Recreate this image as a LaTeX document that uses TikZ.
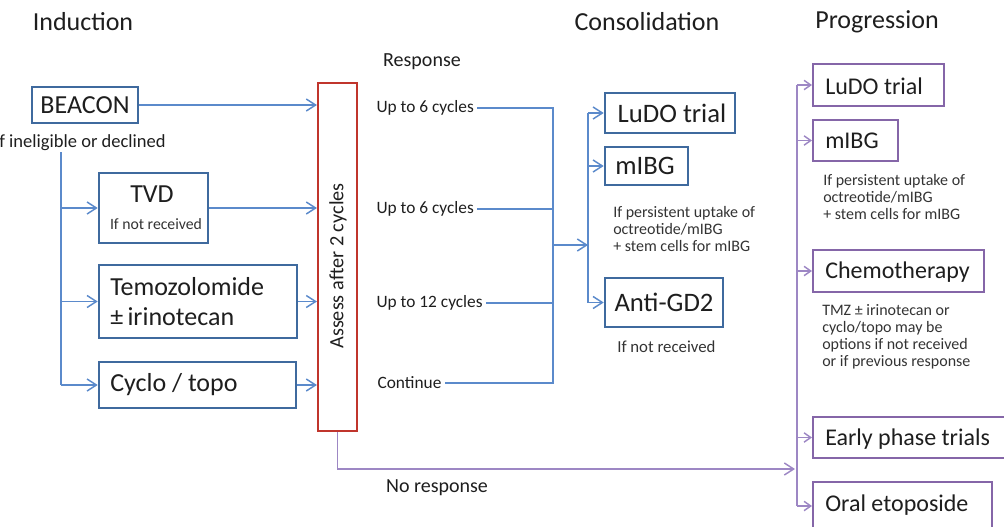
\documentclass[tikz,border=0pt]{standalone}
\usepackage{fontspec}
\setmainfont{Carlito}
\usetikzlibrary{arrows.meta}

\definecolor{boxblue}{HTML}{3F6A9E}
\definecolor{lineblue}{HTML}{5B8ACB}
\definecolor{assessred}{HTML}{C0352C}
\definecolor{boxpurple}{HTML}{8566A8}
\definecolor{linepurple}{HTML}{9D87C4}
\definecolor{ink}{HTML}{1E1E1E}
\definecolor{noteink}{HTML}{333333}

\tikzset{
  sz/.style 2 args={minimum width={#1*0.75pt}, minimum height={#2*0.75pt}},
  ibox/.style={draw=boxblue, line width=1.9pt, inner sep=0pt, fill=white},
  pbox/.style={draw=boxpurple, line width=1.5pt, inner sep=0pt, fill=white},
  abox/.style={draw=assessred, line width=1.6pt, inner sep=0pt, fill=white},
  bline/.style={draw=lineblue, line width=1.1pt},
  barrow/.style={bline, -{Straight Barb[length=7pt,width=9pt,line width=1.1pt]}},
  pline/.style={draw=linepurple, line width=1.1pt},
  parrow/.style={pline, -{Straight Barb[length=5pt,width=7pt,line width=1.1pt]}},
  plarrow/.style={pline, -{Straight Barb[length=7pt,width=9pt,line width=1.1pt]}},
  title/.style={font=\fontsize{19.5}{22}\selectfont, text=ink, inner sep=0pt},
  boxtext/.style={font=\fontsize{19.5}{22.5}\selectfont, text=ink, inner sep=0pt},
  progtext/.style={font=\fontsize{18}{21}\selectfont, text=ink, inner sep=0pt},
  resp/.style={font=\fontsize{13}{15}\selectfont, text=ink, inner sep=2.5pt},
  sublabel/.style={font=\fontsize{15}{18}\selectfont, text=ink, inner sep=0pt},
  note/.style={font=\fontsize{12}{12.9}\selectfont, text=noteink, inner sep=0pt, align=left},
}

\begin{document}
\begin{tikzpicture}[x=0.75pt, y=-0.75pt]
\useasboundingbox (0,0) rectangle (1004,526);
\clip (0,0) rectangle (1004,526);

% column headings
\node[title] (hind) at (83,22) {Induction};
\node[title] (hcons) at (647,22) {Consolidation};
\node[title] (hprog) at (877,22) {Progression};
\node[sublabel] (hresp) at (422,62) {Response};

% ---------------- induction ----------------
\node[ibox, sz={106}{36}] (beacon) at (85,105) {};
\node[boxtext] (beacontxt) at (85,105) {BEACON};
\node[font=\fontsize{13.9}{16}\selectfont, text=ink, inner sep=0pt, anchor=east] (elig) at (166,143) {If ineligible or declined};

\node[ibox, sz={109}{70}] (tvd) at (153.5,208) {};
\node[boxtext] (tvdtxt) at (152,194) {TVD};
\node[note, font=\fontsize{11.8}{13}\selectfont] (tvdnote) at (156,224) {If not received};

\node[ibox, sz={198}{73}] (temo) at (198,301.5) {};
\node[boxtext, anchor=west, align=left] (temotxt) at (110,302) {Temozolomide\\±\,irinotecan};

\node[ibox, sz={197}{46}] (cyclo) at (197.5,385) {};
\node[boxtext, anchor=west] (cyclotxt) at (110,385) {Cyclo / topo};

% branch from BEACON to the alternatives
\coordinate (itrunk) at (61,152);
\draw[bline] (itrunk) -- (itrunk |- cyclo);
\draw[barrow] (itrunk |- tvd) -- (tvd.west);
\draw[barrow] (itrunk |- temo) -- (temo.west);
\draw[barrow] (itrunk |- cyclo) -- (cyclo.west);

% assessment bar
\node[abox, sz={39}{348}] (assess) at (337.5,257) {};
\node[boxtext, font=\fontsize{15.2}{17}\selectfont, rotate=90] (assesstxt) at (338,266) {Assess after 2 cycles};

\draw[barrow] (beacon.east) -- (assess.west |- beacon);
\draw[barrow] (tvd.east) -- (assess.west |- tvd);
\draw[barrow] (temo.east) -- (assess.west |- temo);
\draw[barrow] (cyclo.east) -- (assess.west |- cyclo);

% ---------------- response ----------------
\node[resp, anchor=west] (r1) at (373,108) {Up to 6 cycles};
\node[resp, anchor=west] (r2) at (373,209) {Up to 6 cycles};
\node[resp, anchor=west] (r3) at (373,303) {Up to 12 cycles};
\node[resp, anchor=west] (r4) at (374,383) {Continue};

\coordinate (collect) at (553,108);
\draw[bline] (r1.east) -- (collect) -- (collect |- r4) -- (r4.east);
\draw[bline] (r2.east) -- (collect |- r2);
\draw[bline] (r3.east) -- (collect |- r3);

% ---------------- consolidation ----------------
\node[ibox, sz={130}{40}] (cludo) at (670,113) {};
\node[boxtext, font=\fontsize{20}{22}\selectfont] (cludotxt) at (672,113) {LuDO trial};
\node[ibox, sz={83}{38}] (cmibg) at (646.5,166) {};
\node[boxtext, font=\fontsize{20}{22}\selectfont] (cmibgtxt) at (645,166) {mIBG};
\node[note, anchor=north west] (cmibgnote) at (613,206) {If persistent uptake of\\octreotide/mIBG\\+ stem cells for mIBG};
\node[ibox, sz={118}{49}] (canti) at (664,302.5) {};
\node[boxtext, font=\fontsize{20}{22}\selectfont] (cantitxt) at (664,302.5) {Anti-GD2};
\node[note, font=\fontsize{12.6}{14}\selectfont, anchor=west] (cantinote) at (617,347) {If not received};

\coordinate (ctrunk) at (588,245);
\draw[barrow] (collect |- ctrunk) -- (ctrunk);
\draw[bline] (ctrunk |- cludo) -- (ctrunk |- canti);
\draw[barrow] (ctrunk |- cludo) -- (cludo.west);
\draw[barrow] (ctrunk |- cmibg) -- (cmibg.west);
\draw[barrow] (ctrunk |- canti) -- (canti.west);

% ---------------- progression ----------------
\node[pbox, sz={131}{42}] (pludo) at (878.5,85) {};
\node[progtext, anchor=west] (pludotxt) at (825,86) {LuDO trial};
\node[pbox, sz={85}{41}] (pmibg) at (855.5,140.5) {};
\node[progtext, anchor=west] (pmibgtxt) at (825,141) {mIBG};
\node[note, anchor=north west] (pmibgnote) at (823,174) {If persistent uptake of\\octreotide/mIBG\\+ stem cells for mIBG};
\node[pbox, sz={171}{42}] (pchemo) at (898.5,271) {};
\node[progtext, anchor=west] (pchemotxt) at (825,272) {Chemotherapy};
\node[note, anchor=north west] (pchemonote) at (822,304) {TMZ ± irinotecan or\\cyclo/topo may be\\options if not received\\or if previous response};
\node[pbox, sz={197}{41}] (pearly) at (911.5,437.5) {};
\node[progtext, anchor=west] (pearlytxt) at (825,439) {Early phase trials};
\node[pbox, sz={179}{48}] (poral) at (902.5,506) {};
\node[progtext, anchor=west] (poraltxt) at (825,505) {Oral etoposide};

\coordinate (ptrunk) at (797,300);
\draw[pline] (ptrunk |- pludo) -- (ptrunk |- poral);
\draw[parrow] (ptrunk |- pludo) -- (pludo.west);
\draw[parrow] (ptrunk |- pmibg) -- (pmibg.west);
\draw[parrow] (ptrunk |- pchemo) -- (pchemo.west);
\draw[parrow] (ptrunk |- pearly) -- (pearly.west);
\draw[parrow] (ptrunk |- poral) -- (poral.west);

% no response path
\coordinate (noresp) at (795,469);
\draw[plarrow] (assess.south) |- (noresp);
\node[sublabel] (noresptxt) at (437,488) {No response};

\end{tikzpicture}
\end{document}
